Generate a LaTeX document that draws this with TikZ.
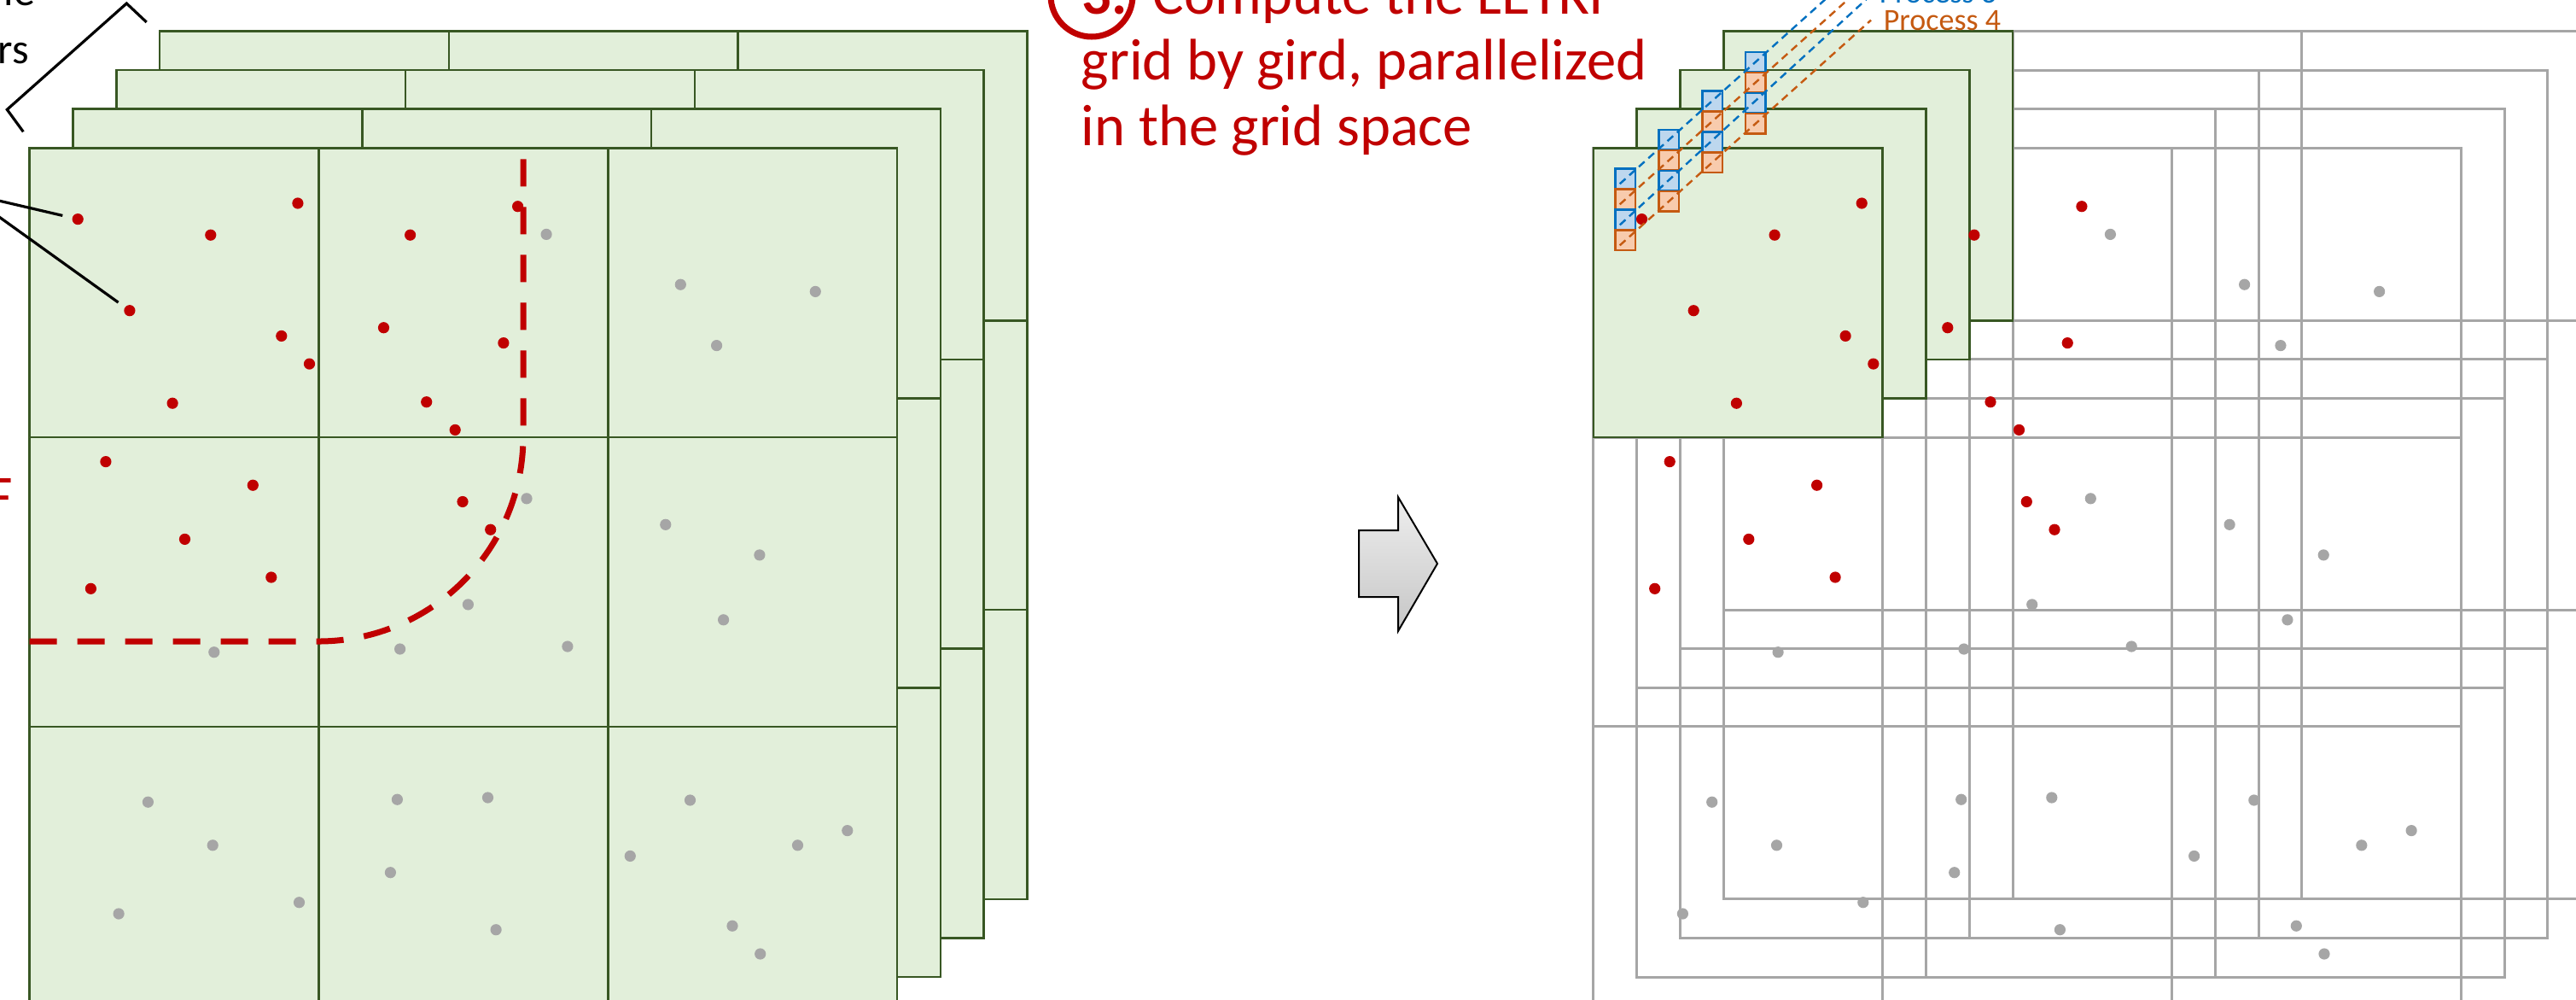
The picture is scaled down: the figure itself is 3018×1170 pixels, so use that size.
\documentclass[tikz,border=0pt]{standalone}
\usepackage{fontspec}
\setmainfont{Carlito}

\definecolor{leafgreen}{HTML}{E2EFDA}
\definecolor{leafedge}{HTML}{385723}
\definecolor{obsred}{HTML}{C00000}
\definecolor{dotgrey}{HTML}{A6A6A6}
\definecolor{gridgrey}{HTML}{A6A6A6}
\definecolor{procblue}{HTML}{0070C0}
\definecolor{procbluefill}{HTML}{BDD7EE}
\definecolor{procorange}{HTML}{C55A11}
\definecolor{procorangefill}{HTML}{F8CBAD}
\definecolor{arrowtop}{HTML}{EEEEEE}
\definecolor{arrowbottom}{HTML}{C6C6C6}

%% observation points, (x/y) in pixels of the left picture
\newcommand\reddots{91.2/256.6, 246.8/275.2, 348.9/238.0, 151.9/363.7, 329.8/393.4, 362.5/426.1, 202.1/472.2, 480.6/275.2, 449.5/383.7, 589.9/401.6, 606.6/241.7, 499.7/470.7, 533.2/503.4, 123.9/540.6, 296.3/568.2, 216.5/631.4, 106.4/689.3, 317.8/676.0, 542.0/587.5, 574.7/620.2}
\newcommand\greydots{640.1/274.4, 797.3/333.2, 955.3/341.4, 839.6/404.6, 617.0/583.8, 779.8/614.3, 889.9/649.9, 847.6/725.8, 548.4/707.9, 468.6/760.0, 250.8/763.7, 664.9/757.0, 173.4/939.2, 249.2/989.8, 139.1/1070.0, 350.5/1056.7, 465.4/936.2, 571.5/934.0, 457.4/1021.7, 581.1/1088.7, 808.5/937.0, 738.3/1002.4, 934.5/989.8, 992.8/972.6, 858.0/1084.2, 890.7/1117.0}

%% one pixel of the reference = 0.25pt
\tikzset{
  member/.style={fill=leafgreen, draw=leafedge, line width=0.65pt},
  memberline/.style={draw=leafedge, line width=0.65pt},
  gridline/.style={draw=gridgrey, line width=0.75pt},
  rdot/.style={circle, fill=obsred, inner sep=0pt, minimum size=3.3pt},
  gdot/.style={circle, fill=dotgrey, inner sep=0pt, minimum size=3.3pt},
  bluecell/.style={draw=procblue, fill=procbluefill, line width=0.625pt, inner sep=0pt, minimum size=5.875pt},
  orangecell/.style={draw=procorange, fill=procorangefill, line width=0.625pt, inner sep=0pt, minimum size=5.875pt},
  bluelink/.style={draw=procblue, line width=0.6pt, dash pattern=on 2.25pt off 1.5pt},
  orangelink/.style={draw=procorange, line width=0.6pt, dash pattern=on 2.25pt off 1.5pt},
  localbound/.style={draw=obsred, line width=1.75pt, dash pattern=on 8pt off 6pt, rounded corners=60pt},
  note/.style={draw=black, line width=0.8pt},
  notetext/.style={inner sep=0pt, font=\fontsize{12.5}{15}\selectfont},
  steptext/.style={inner sep=0pt, text=obsred, font=\fontsize{17.15}{19.25}\selectfont},
  proclabel/.style={inner sep=0pt, font=\fontsize{9}{10}\selectfont},
  bigarrow/.style={draw=black, line width=0.5pt, top color=arrowtop, bottom color=arrowbottom},
}

\begin{document}
\begin{tikzpicture}[x=0.25pt, y=-0.25pt]

  \useasboundingbox (0,0) rectangle (3018,1170);

  %% ════ left: stacked ensemble members, back to front ════
  \foreach \k in {3,2,1,0}{
    \begin{scope}[shift={(34.6+50.8*\k,173.3-45.6*\k)}]
      \draw[member] (0,0) rectangle (1016.4,1016.4);
      \foreach \c in {338.8,677.6}{
        \draw[memberline] (\c,0) -- (\c,1016.4);
        \draw[memberline] (0,\c) -- (1016.4,\c);
      }
    \end{scope}
  }

  %% ════ left: local region boundary ════
  \draw[localbound] (34.6,751) -- (613,751) -- (613,173.3);

  %% ════ left: points ════
  \foreach \x/\y [count=\i] in \greydots {\node[gdot] (g\i) at (\x,\y) {};}
  \foreach \x/\y [count=\i] in \reddots {\node[rdot] (r\i) at (\x,\y) {};}

  %% ════ left: cut-off callouts ════
  \coordinate (obsnote) at (-40,226);
  \draw[note, shorten >=2.75pt] (obsnote) -- (r1);
  \draw[note, shorten >=2.25pt] (obsnote) -- (r4);
  \draw[note] (27.3,154.3) -- (8.3,128.3) -- (148.3,4) -- (171.7,26);
  \node[notetext, anchor=base east] (ensword) at (42,6) {le};
  \node[notetext, anchor=base west] (memword) at (-3,74) {rs};
  \node[steptext, anchor=base west] (letkfword) at (-17.6,604.5) {F};

  %% ════ step text ════
  \node[draw=obsred, line width=1.75pt, circle, inner sep=0pt, minimum size=24pt] (stepring) at (1279,-5) {};
  \node[steptext, anchor=base west, font=\fontsize{17.15}{19.25}\selectfont\bfseries] (stepno) at (1267,16) {3.};
  \node[steptext, anchor=base west] (stepa) at (1350,16) {Compute the LETKF};
  \node[steptext, anchor=base west] (stepb) at (1266,93) {grid by gird, parallelized};
  \node[steptext, anchor=base west] (stepc) at (1266,170) {in the grid space};

  %% ════ block arrow ════
  \draw[bigarrow] (1592,621) -- (1638,621) -- (1638,582) -- (1684,660)
                  -- (1638,739) -- (1638,699) -- (1592,699) -- cycle;

  %% ════ right: grid-by-grid picture ════
  \begin{scope}[xshift=458.075pt]
    % members as grey outlines
    \foreach \k in {3,2,1,0}{
      \begin{scope}[shift={(34.6+50.8*\k,173.3-45.6*\k)}]
        \draw[gridline] (0,0) rectangle (1016.4,1016.4);
        \foreach \c in {338.8,677.6}{
          \draw[gridline] (\c,0) -- (\c,1016.4);
          \draw[gridline] (0,\c) -- (1016.4,\c);
        }
      \end{scope}
    }
    % first grid cell of every member
    \foreach \k in {3,2,1,0}
      \draw[member] (34.6+50.8*\k,173.3-45.6*\k) rectangle ++(338.8,338.8);

    \begin{scope}[name prefix=R-]
      \foreach \x/\y [count=\i] in \greydots {\node[gdot] (g\i) at (\x,\y) {};}
      \foreach \x/\y [count=\i] in \reddots {\node[rdot] (r\i) at (\x,\y) {};}
    \end{scope}

    % grid points handed to the processes
    \foreach \k in {0,1,2,3}{
      \node[bluecell]   (b1-\k) at (72.1+50.8*\k,209.3-45.6*\k) {};
      \node[orangecell] (o1-\k) at (72.1+50.8*\k,233.3-45.6*\k) {};
      \node[bluecell]   (b2-\k) at (72.1+50.8*\k,257.3-45.6*\k) {};
      \node[orangecell] (o2-\k) at (72.1+50.8*\k,281.3-45.6*\k) {};
    }
    \coordinate (b1end) at (336.3,-27.8);
    \coordinate (o1end) at (361.7,-26.6);
  \end{scope}

  %% ════ process labels and links ════
  \node[proclabel, text=procblue, anchor=base west] (proc3) at (2201,3) {Process 3};
  \node[proclabel, text=procorange, anchor=base west] (proc4) at (2206,35) {Process 4};

  \draw[bluelink, shorten <=-2.25pt] (b1-0.center) -- (b1end);
  \draw[orangelink, shorten <=-2.25pt] (o1-0.center) -- (o1end);
  \draw[bluelink, shorten <=-2.25pt] (b2-0.center) -- ([xshift=-1.5pt]proc3.west);
  \draw[orangelink, shorten <=-2.25pt] (o2-0.center) -- ([xshift=-3.5pt]proc4.west);
\end{tikzpicture}
\end{document}
